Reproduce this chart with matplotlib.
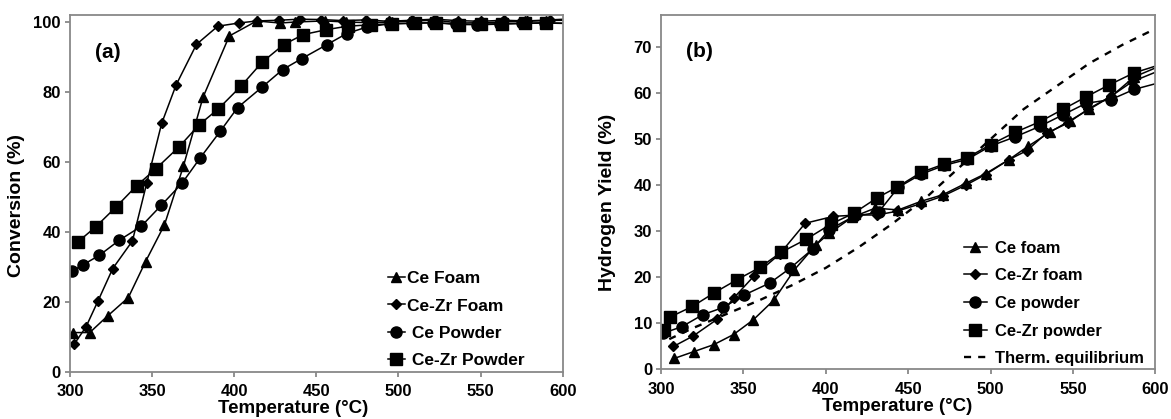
import matplotlib.pyplot as plt

plt.rcParams['font.family'] = ['Liberation Sans', 'DejaVu Sans']
plt.rcParams['font.weight'] = 'bold'

# (a) conversion data
a_ce_foam_t = [302, 312, 323, 335.5, 346, 357.5, 369, 381, 397, 413.7, 428, 437, 455, 468,
               482, 496, 509, 523, 537, 550, 563, 577, 590, 610]
a_ce_foam = [11.2, 11.2, 16, 21.2, 31.5, 42, 58.7, 78.5, 96, 100.3, 99.7, 100, 100.3, 100,
             99.8, 100, 100.3, 100.5, 99.7, 99.8, 100, 100.2, 100.4, 100.6]

a_cezr_foam_t = [302.4, 309.7, 317, 326, 338, 346.7, 355.8, 364.6, 377, 390, 402.7, 413.7,
                 427, 440, 453, 466, 480, 494, 508, 522, 536, 550, 564, 578, 592, 610]
a_cezr_foam = [7.8, 12.8, 20.2, 29.5, 37.4, 53.9, 71, 82, 93.6, 98.8, 99.7, 100.3,
               100.5, 100.8, 100.7, 100.4, 100.6, 100.2, 100.5, 100.8, 100.4, 100.2, 100.5,
               100.3, 100.6, 101]

a_ce_powder_t = [301, 308, 317.9, 330, 343.4, 355.6, 368.2, 379.2, 391.4, 402, 417, 429.5,
                 441, 456.3, 468.5, 481, 495, 508, 521, 535, 548, 562, 575, 589, 610]
a_ce_powder = [28.7, 30.6, 33.3, 37.6, 41.6, 47.6, 53.9, 61.1, 68.7, 75.5, 81.4, 86.4,
               89.5, 93.5, 96.7, 98.6, 99.5, 99.6, 99.8, 99.5, 99.2, 99.4, 99.6, 99.8, 99.5]

a_cezr_powder_t = [305, 315.8, 327.8, 340.6, 352.2, 366.6, 378.6, 390.4, 404, 417, 430, 442,
                   456, 469, 483, 496, 510, 523, 537, 550, 563, 577, 590, 610]
a_cezr_powder = [37.2, 41.5, 47, 53.2, 58, 64.4, 70.6, 75.2, 81.6, 88.5, 93.5, 96.4,
                 97.8, 98.8, 99.2, 99.5, 99.7, 99.8, 99.2, 99.4, 99.5, 99.6, 99.7, 99.5]

# (b) hydrogen yield data
b_ce_foam_t = [308, 320, 332, 344, 356, 368.5, 381, 394, 402, 416, 430, 444, 458, 471, 485,
               497, 511, 523, 536, 548, 560, 574, 587, 610]
b_ce_foam = [2.3, 3.8, 5.3, 7.5, 10.7, 15, 21.6, 27, 29.5, 33, 35, 34.6, 36.5, 37.9, 40.4,
             42.5, 45.5, 48.5, 51.5, 54, 56.5, 59.5, 63.5, 67]

b_cezr_foam_t = [307.5, 319.6, 334, 344, 356.6, 372, 387.5, 404.6, 419, 431, 443, 458, 471,
                 485, 497, 511, 522, 534, 547, 559, 573, 586, 610]
b_cezr_foam = [4.9, 7.2, 10.8, 15.4, 20.3, 25, 31.7, 33.2, 33.5, 33.5, 34.3, 36, 37.6,
               40, 42.3, 45.5, 47.5, 51.3, 53.5, 56.5, 59.3, 62.5, 66]

b_ce_powder_t = [301.4, 312.6, 325.3, 337.8, 350.5, 366, 378.3, 392, 402, 417, 432, 444,
                 458, 472, 486, 500, 515, 530, 544, 558, 573, 587, 610]
b_ce_powder = [7.8, 9.2, 11.8, 13.4, 16.1, 18.7, 21.9, 26.1, 30.3, 33.2, 34.1, 39.5,
               42.4, 44.3, 45.6, 48.5, 50.5, 52.8, 55.3, 57.8, 58.6, 60.8, 63]

b_cezr_powder_t = [302, 305.5, 319, 332.4, 346, 360, 373, 388, 403, 417, 431, 443.5, 458,
                   472, 486, 500, 515, 530, 544, 558, 572, 587, 610]
b_cezr_powder = [8.5, 11.3, 13.6, 16.6, 19.4, 22.1, 25.4, 28.2, 31.5, 33.9, 37.2, 39.6,
                 42.8, 44.6, 46, 48.8, 51.5, 53.8, 56.5, 59.2, 61.8, 64.4, 67]

eq_t = [305, 320, 340, 360, 380, 400, 420, 440, 460, 480, 500, 520, 540, 560, 580, 600]
eq_yield = [6.5, 9.0, 12.0, 15.0, 18.3, 22.0, 26.5, 31.5, 37.0, 43.5, 50.0, 56.5, 61.5,
            66.5, 70.5, 74.0]

xticks = [300, 350, 400, 450, 500, 550, 600]

fig = plt.figure(figsize=(11.71, 4.19), dpi=100)
ax1 = fig.add_axes([0.0598, 0.1128, 0.4207, 0.8514])
ax2 = fig.add_axes([0.5645, 0.1193, 0.4221, 0.8449])

frame = '#888888'


def style(ax, ylim, yticks, ylabel, tag, xlab_pos, ylab_pos):
    ax.set_xlim(300, 600)
    ax.set_ylim(*ylim)
    ax.set_xticks(xticks)
    ax.set_yticks(yticks)
    for s in ax.spines.values():
        s.set_color(frame)
        s.set_linewidth(1.3)
    ax.tick_params(axis='both', direction='out', length=3.5, width=1.3, color=frame,
                   labelsize=12)
    ax.tick_params(axis='x', pad=5.5)
    ax.tick_params(axis='y', pad=3)
    ax.set_xlabel('Temperature (°C)', fontsize=13.5, fontweight='bold')
    ax.set_ylabel(ylabel, fontsize=14, fontweight='bold')
    ax.xaxis.set_label_coords(*xlab_pos)
    ax.yaxis.set_label_coords(*ylab_pos)
    ax.text(0.05, 0.88, tag, transform=ax.transAxes, fontsize=15, fontweight='bold')


lw = 1.1
ax1.plot(a_ce_foam_t, a_ce_foam, 'k-^', lw=lw, ms=7, label='Ce Foam')
ax1.plot(a_cezr_foam_t, a_cezr_foam, 'k-D', lw=lw, ms=5, label='Ce-Zr Foam')
ax1.plot(a_ce_powder_t, a_ce_powder, 'k-o', lw=lw, ms=8, label=' Ce Powder')
ax1.plot(a_cezr_powder_t, a_cezr_powder, 'k-s', lw=lw, ms=8, label=' Ce-Zr Powder')
style(ax1, (0, 102), [0, 20, 40, 60, 80, 100], 'Conversion (%)', '(a)',
      (0.452, -0.078), (-0.092, 0.465))
ax1.legend(loc='lower left', bbox_to_anchor=(0.645, 0.01), frameon=False, fontsize=12.5,
           handlelength=1.0, handletextpad=0.1, labelspacing=0.7, borderpad=0,
           borderaxespad=0)

ax2.plot(b_ce_foam_t, b_ce_foam, 'k-^', lw=lw, ms=7, label='Ce foam')
ax2.plot(b_cezr_foam_t, b_cezr_foam, 'k-D', lw=lw, ms=5, label='Ce-Zr foam')
ax2.plot(b_ce_powder_t, b_ce_powder, 'k-o', lw=lw, ms=8, label='Ce powder')
ax2.plot(b_cezr_powder_t, b_cezr_powder, 'k-s', lw=lw, ms=8, label='Ce-Zr powder')
ax2.plot(eq_t, eq_yield, 'k--', lw=1.7, dashes=(3, 3), label='Therm. equilibrium')
style(ax2, (0, 77), [0, 10, 20, 30, 40, 50, 60, 70], 'Hydrogen Yield (%)', '(b)',
      (0.478, -0.082), (-0.091, 0.47))
ax2.legend(loc='lower left', bbox_to_anchor=(0.612, 0.008), frameon=False, fontsize=12,
           handlelength=1.4, handletextpad=0.5, labelspacing=0.76, borderpad=0,
           borderaxespad=0)

fig.savefig('out.png', dpi=100)
